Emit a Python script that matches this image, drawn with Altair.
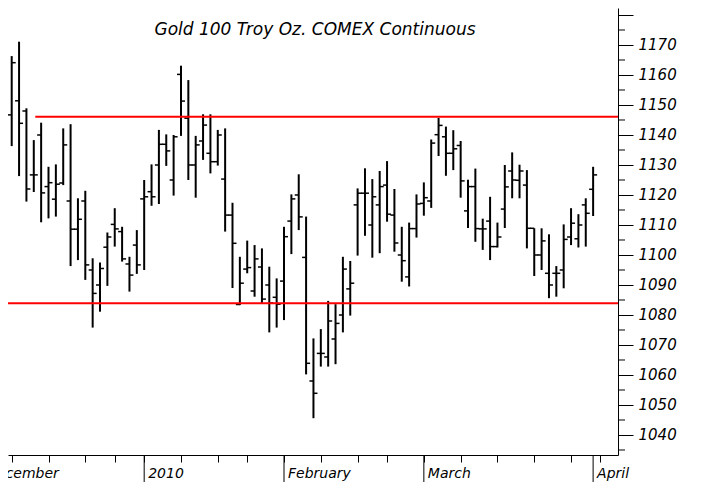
import altair as alt
import pandas as pd

# ---- data (trading-day index 0 = 7 Dec 2009) ----
opens = [1146.7, 1151.4, 1148.0, 1126.7, 1140.0, 1122.8, 1118.6, 1124.0, 1118.0, 1108.6,
         1118.0, 1095.0, 1090.0, 1102.6, 1110.2, 1107.8, 1097.0, 1103.3, 1118.7, 1121.1,
         1130.0, 1136.9, 1125.0, 1160.2, 1145.6, 1130.0, 1138.0, 1133.9, 1131.1, 1125.3,
         1113.3, 1083.5, 1095.3, 1088.0, 1096.0, 1090.0, 1085.9, 1091.3, 1111.3, 1120.0,
         1099.2, 1058.0, 1067.2, 1066.0, 1072.0, 1080.0, 1088.7, 1116.7, 1120.6, 1110.0,
         1116.7, 1123.3, 1113.3, 1100.0, 1092.7, 1108.8, 1117.2, 1118.0, 1140.1, 1139.4,
         1133.9, 1136.5, 1114.7, 1122.8, 1108.7, 1111.3, 1102.8, 1115.3, 1128.0, 1124.9,
         1123.3, 1108.9, 1100.0, 1093.9, 1093.9, 1095.0, 1106.0, 1105.4, 1116.7, 1121.9]
highs = [1166.3, 1171.1, 1148.9, 1138.3, 1144.1, 1129.4, 1130.2, 1142.2, 1143.6, 1118.9,
         1121.4, 1098.9, 1097.5, 1107.5, 1115.6, 1109.4, 1099.4, 1108.3, 1125.0, 1130.2,
         1141.7, 1140.2, 1140.0, 1163.1, 1158.3, 1139.7, 1146.9, 1146.9, 1141.7, 1142.2,
         1117.4, 1099.4, 1104.8, 1103.3, 1102.2, 1096.1, 1092.2, 1109.4, 1120.2, 1126.9,
         1112.8, 1072.2, 1075.3, 1084.7, 1083.6, 1099.4, 1098.0, 1122.2, 1128.9, 1125.3,
         1128.0, 1131.3, 1122.0, 1109.4, 1110.8, 1120.2, 1124.2, 1138.5, 1145.7, 1142.8,
         1141.6, 1138.0, 1125.1, 1128.8, 1112.1, 1119.4, 1110.8, 1130.0, 1134.2, 1130.1,
         1128.3, 1108.9, 1108.9, 1106.9, 1096.3, 1110.2, 1115.6, 1113.6, 1118.9, 1129.4]
lows = [1136.3, 1126.3, 1117.8, 1121.0, 1110.9, 1112.2, 1112.8, 1123.3, 1096.3, 1098.3,
        1091.7, 1075.8, 1081.1, 1089.7, 1102.8, 1097.8, 1087.8, 1093.7, 1095.0, 1116.4,
        1117.0, 1129.7, 1119.8, 1139.7, 1125.0, 1119.1, 1131.7, 1127.2, 1129.8, 1107.8,
        1089.0, 1083.3, 1093.9, 1086.1, 1083.9, 1074.2, 1075.8, 1078.3, 1100.3, 1108.3,
        1060.2, 1045.6, 1062.8, 1062.8, 1063.6, 1074.2, 1079.8, 1099.8, 1106.4, 1099.1,
        1100.6, 1111.1, 1101.1, 1091.1, 1089.5, 1105.8, 1113.1, 1115.7, 1133.0, 1126.4,
        1128.3, 1119.1, 1109.0, 1104.4, 1101.7, 1098.3, 1102.5, 1109.0, 1118.9, 1118.9,
        1102.2, 1093.0, 1095.0, 1085.6, 1086.1, 1088.9, 1103.3, 1102.5, 1102.8, 1113.0]
closes = [1164.1, 1143.9, 1122.0, 1126.7, 1120.7, 1124.1, 1123.6, 1136.7, 1108.6, 1111.9,
          1096.7, 1087.2, 1095.5, 1106.0, 1108.7, 1098.7, 1093.3, 1096.7, 1119.4, 1119.4,
          1136.9, 1134.7, 1139.4, 1151.3, 1130.0, 1136.7, 1143.3, 1131.1, 1140.0, 1113.3,
          1103.9, 1090.6, 1095.8, 1098.7, 1085.3, 1084.0, 1083.6, 1106.1, 1118.7, 1112.7,
          1063.9, 1053.9, 1067.2, 1078.0, 1077.2, 1095.3, 1090.6, 1120.6, 1120.6, 1119.4,
          1122.8, 1113.6, 1104.0, 1098.1, 1108.8, 1117.0, 1119.1, 1137.3, 1143.2, 1133.9,
          1135.4, 1124.7, 1122.8, 1108.8, 1108.7, 1102.8, 1106.0, 1122.7, 1125.0, 1128.0,
          1108.9, 1100.0, 1104.7, 1090.0, 1093.9, 1105.2, 1110.6, 1110.0, 1113.9, 1126.7]
day_index = list(range(len(opens)))

# horizontal support / resistance lines
level_values = [1146.1, 1083.9]
level_start = [3.2, -0.5]
level_end = [82.38, 82.38]

# axis ticks / labels
week_ticks = [0, 5, 10, 14, 18, 23, 28, 32, 37, 42, 47, 51, 56, 61, 66, 71, 76, 80]
month_names = ["December", "2010", "February", "March", "April"]
month_index = [-4, 18, 37, 56, 79]
price_ticks = list(range(1040, 1190, 10))
price_minor = list(range(1035, 1185, 10))
title_text = "Gold 100 Troy Oz. COMEX Continuous"

W, H = 610, 447
XDOM = [-0.503, 82.38]
YDOM = [1033.33, 1182.33]
FONT = "DejaVu Sans"

bars = pd.DataFrame({"i": day_index, "o": opens, "h": highs, "l": lows, "c": closes})
levels = pd.DataFrame({"v": level_values, "s": level_start, "e": level_end})
months = pd.DataFrame({"m": month_names, "i": month_index})
minor = pd.DataFrame({"p": price_minor})

xs = alt.Scale(domain=XDOM, nice=False, zero=False)
ys = alt.Scale(domain=YDOM, nice=False, zero=False)

x_axis = alt.Axis(values=week_ticks, labels=False, tickSize=7, tickColor="black",
                  domainColor="black", grid=False, title=None, tickWidth=1, domainWidth=1)
y_axis = alt.Axis(orient="right", values=price_ticks, ticks=True, tickSize=15, tickColor="black",
                  domainColor="black", grid=False, title=None, labelPadding=5, format="d",
                  labelFont=FONT, labelFontStyle="italic", labelFontSize=15,
                  labelColor="black", labelExpr="datum.value >= 1180 ? '' : datum.label",
                  labelAlign="left", labelBaseline="middle", tickWidth=1, domainWidth=1,
                  labelOverlap=False)

X = lambda f: alt.X(f, scale=xs, axis=x_axis)
Y = lambda f: alt.Y(f, scale=ys, axis=y_axis)

hl = alt.Chart(bars).mark_rule(color="black", strokeWidth=2).encode(
    x=X("i:Q"), y=Y("l:Q"), y2="h:Q",
)
open_t = alt.Chart(bars).mark_rule(color="black", strokeWidth=1.5, xOffset=-4, x2Offset=0).encode(
    x=X("i:Q"), x2="i:Q", y=Y("o:Q"),
)
close_t = alt.Chart(bars).mark_rule(color="black", strokeWidth=1.5, xOffset=0, x2Offset=4).encode(
    x=X("i:Q"), x2="i:Q", y=Y("c:Q"),
)
lines = alt.Chart(levels).mark_rule(color="#ff0000", strokeWidth=2).encode(
    x=X("s:Q"), x2="e:Q", y=Y("v:Q"),
)
minor_t = alt.Chart(minor).mark_rule(color="black", strokeWidth=1).encode(
    x=alt.value(W), x2=alt.value(W + 7), y=Y("p:Q"),
)
month_rules = alt.Chart(months).mark_rule(color="black", strokeWidth=1).encode(
    x=X("i:Q"), y=alt.value(H), y2=alt.value(H + 32),
)
month_text = alt.Chart(months).mark_text(
    align="left", baseline="middle", dx=4, font=FONT, fontStyle="italic", fontSize=14, color="black"
).encode(
    x=X("i:Q"), y=alt.value(H + 19), text="m:N",
)
title = alt.Chart(pd.DataFrame({"t": [title_text]})).mark_text(
    align="center", baseline="middle", font=FONT, fontStyle="italic", fontSize=17, color="black"
).encode(x=alt.value(307), y=alt.value(22), text="t:N")

chart = alt.layer(hl, open_t, close_t, lines, minor_t, month_rules, month_text, title).properties(
    width=W, height=H,
    autosize=alt.AutoSizeParams(type="none"),
    padding={"left": 0, "top": 0, "right": 78, "bottom": 27},
).configure_view(strokeWidth=0)

chart.save("out.html", embed_options={"renderer": "svg", "actions": False})
